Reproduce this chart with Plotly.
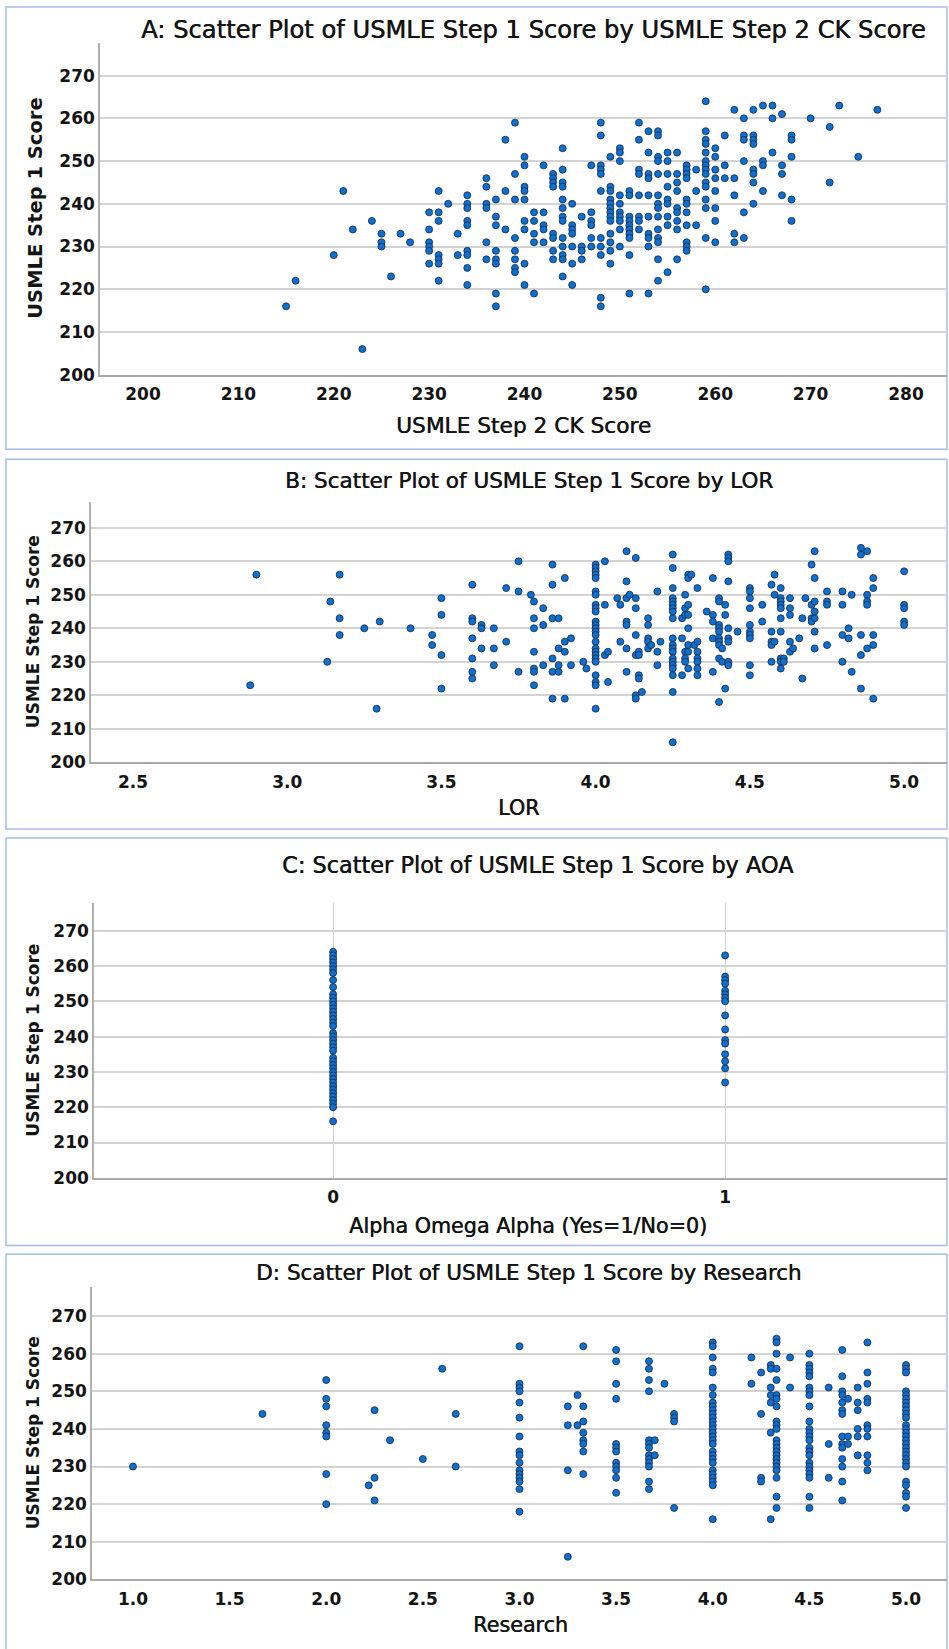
import plotly.graph_objects as go

W, H = 949, 1649

# ---------------- data ----------------
# Panel A: USMLE Step 2 CK (x) -> Step 1 scores (y) at that x
A_step2 = [215, 216, 220, 221, 222, 223, 224, 225, 226, 227, 228, 230, 231, 232, 233, 234,
           236, 237, 238, 239, 240, 241, 242, 243, 244, 245, 246, 247, 248, 249, 250, 251,
           252, 253, 254, 255, 256, 257, 258, 259, 260, 261, 262, 263, 264, 265, 266, 267,
           268, 270, 272, 273, 275, 277]
A_step1 = [
    [216], [222], [228], [243], [234], [206], [236], [233, 231, 230], [223], [233], [231],
    [238, 234, 231, 230, 229, 226],
    [243, 238, 236, 228, 227, 226, 222],
    [240], [233, 228],
    [242, 240, 239, 236, 235, 229, 228, 225, 221],
    [246, 244, 240, 239, 231, 227],
    [241, 237, 235, 229, 227, 226, 219, 216],
    [255, 243, 234],
    [259, 247, 241, 232, 229, 227, 225, 224],
    [251, 249, 244, 243, 241, 236, 234, 226, 221],
    [238, 236, 233, 231, 219],
    [249, 238, 235, 234, 231],
    [247, 246, 245, 244, 233, 232, 229, 227],
    [253, 248, 245, 244, 241, 239, 237, 236, 232, 230, 228, 227, 223],
    [240, 235, 234, 233, 230, 226, 221],
    [237, 230, 229, 227],
    [249, 238, 236, 235, 232, 230],
    [259, 256, 249, 248, 247, 243, 232, 230, 228, 218, 216],
    [251, 244, 243, 241, 240, 239, 238, 237, 236, 233, 231, 229, 226],
    [253, 252, 250, 242, 240, 238, 237, 236, 234, 230],
    [243, 242, 237, 236, 235, 234, 233, 232, 228, 219],
    [259, 255, 248, 247, 242, 237, 236, 234],
    [257, 252, 247, 246, 242, 237, 233, 232, 230, 219],
    [257, 256, 251, 250, 247, 242, 240, 239, 237, 234, 232, 231, 227, 222],
    [252, 250, 247, 244, 241, 240, 237, 235, 224],
    [252, 247, 245, 243, 239, 238, 236, 234, 227],
    [249, 248, 247, 246, 241, 240, 238, 235, 231, 230, 229],
    [248, 243, 235],
    [264, 257, 255, 254, 252, 250, 249, 248, 247, 245, 244, 241, 239, 232, 220],
    [253, 251, 248, 246, 243, 239, 236, 231],
    [256, 249, 246],
    [262, 246, 242, 233, 231],
    [260, 256, 255, 250, 238, 232],
    [262, 256, 255, 254, 248, 247, 245, 240],
    [263, 250, 249, 243],
    [263, 260, 252],
    [261, 249, 247, 242],
    [256, 255, 251, 241, 236],
    [260], [258, 245], [263], [251], [262],
]

# Panel B: LOR (x) -> Step 1 scores
B_lor = [2.88, 2.90, 3.13, 3.14, 3.17, 3.25, 3.29, 3.30, 3.40, 3.47, 3.50, 3.60, 3.63, 3.67,
         3.71, 3.75, 3.79, 3.80, 3.83, 3.86, 3.88, 3.90, 3.92, 3.96, 3.97, 4.00, 4.03, 4.04,
         4.07, 4.08, 4.10, 4.11, 4.13, 4.14, 4.15, 4.17, 4.18, 4.20, 4.21, 4.25, 4.28, 4.29,
         4.30, 4.31, 4.32, 4.33, 4.36, 4.38, 4.40, 4.41, 4.42, 4.43, 4.46, 4.50, 4.54, 4.57,
         4.58, 4.60, 4.61, 4.63, 4.64, 4.66, 4.67, 4.68, 4.70, 4.71, 4.75, 4.80, 4.82, 4.83,
         4.86, 4.88, 4.90, 5.00]
B_step1 = [
    [223], [256], [230], [248], [256, 243, 238], [240], [216], [242], [240], [238, 235],
    [249, 244, 232, 222],
    [253, 243, 242, 237, 231, 227, 225],
    [241, 240, 234],
    [240, 234, 229],
    [252, 236],
    [260, 251, 227],
    [250],
    [248, 243, 240, 233, 228, 227, 223],
    [246, 241, 229],
    [259, 253, 243, 231, 227, 219],
    [243, 234, 229, 227],
    [255, 236, 233, 219],
    [237, 229], [230], [228],
    [259, 258, 257, 256, 255, 251, 250, 247, 246, 245, 242, 241, 240, 239, 238, 236, 234,
     233, 232, 231, 230, 226, 224, 223, 216],
    [260, 247, 232], [233, 224], [249], [247, 236],
    [263, 254, 249, 242, 241, 234, 227],
    [250],
    [261, 249, 246, 238, 232, 220, 219],
    [233, 232, 226, 225],
    [221],
    [243, 241, 237, 236, 234],
    [235],
    [251, 233, 229],
    [236],
    [262, 258, 252, 249, 248, 247, 246, 245, 243, 237, 235, 234, 233, 231, 230, 229, 228,
     226, 221, 206],
    [243, 237, 226],
    [250, 246, 244, 233, 231, 230],
    [256, 255, 247, 244, 240, 235, 233, 228],
    [256], [235],
    [252, 236, 233, 231, 230, 228, 226],
    [245],
    [255, 244, 242, 237, 227],
    [249, 248, 241, 240, 239, 237, 236, 235, 231, 218],
    [234, 230],
    [247, 244, 222],
    [262, 261, 260, 254, 240, 237, 236, 230, 229],
    [239],
    [252, 251, 249, 246, 241, 239, 238, 237, 229, 226],
    [247, 242],
    [253, 239, 236, 235, 230],
    [256, 250, 236],
    [252, 249, 248, 247, 246, 243, 239, 231, 230, 228],
    [231, 230],
    [249, 246, 244, 236, 233],
    [234], [237], [243, 225], [249],
    [259, 247, 243, 242],
    [263, 255, 248, 245, 243, 239, 234],
    [251, 248, 247, 235],
    [251, 247, 238, 230],
    [240, 237],
    [250, 227],
    [264, 262, 238, 232, 222],
    [263, 250, 248, 247, 234],
    [255, 252, 238, 235, 219],
    [257, 247, 246, 242, 241],
]

# Panel C: AOA (0 / 1) -> Step 1 scores
C_aoa = [0, 1]
C_step1 = [
    [264, 263, 262, 261, 260, 259, 258, 256, 254, 252, 251, 250, 249, 248, 247, 246, 245,
     244, 243, 241, 240, 239, 238, 237, 236, 234, 233, 232, 231, 230, 229, 228, 227, 226,
     225, 224, 223, 222, 221, 220, 216],
    [263, 257, 256, 255, 253, 252, 251, 250, 246, 242, 239, 238, 235, 233, 231, 227],
]

# Panel D: Research (x) -> Step 1 scores
D_research = [1.00, 1.67, 2.00, 2.22, 2.25, 2.33, 2.50, 2.60, 2.67, 3.00, 3.25, 3.30, 3.33,
              3.50, 3.67, 3.70, 3.75, 3.80, 4.00, 4.20, 4.25, 4.30, 4.33, 4.40, 4.50, 4.60,
              4.67, 4.70, 4.75, 4.80, 5.00]
D_step1 = [
    [230], [244],
    [253, 248, 246, 241, 239, 238, 228, 220],
    [225], [245, 227, 221], [237], [232], [256], [244, 230],
    [262, 252, 251, 250, 247, 243, 238, 234, 233, 231, 229, 228, 227, 226, 224, 218],
    [246, 241, 229, 206],
    [249, 241],
    [262, 246, 242, 239, 237, 236, 234, 228],
    [261, 258, 252, 248, 236, 235, 234, 231, 230, 229, 227, 223],
    [258, 256, 253, 250, 237, 236, 235, 233, 232, 231, 230, 226, 224],
    [237, 233], [252], [244, 243, 242, 219],
    [263, 262, 259, 256, 255, 251, 249, 247, 246, 245, 244, 243, 242, 241, 240, 239, 238,
     237, 236, 234, 233, 232, 231, 229, 228, 227, 226, 225, 216],
    [259, 252],
    [255, 244, 227, 226],
    [257, 256, 251, 249, 247, 239, 216],
    [264, 263, 260, 256, 253, 249, 248, 246, 242, 241, 240, 237, 236, 235, 234, 233, 232,
     231, 230, 229, 227, 222, 219],
    [259, 251],
    [260, 257, 256, 255, 254, 251, 250, 249, 246, 242, 240, 239, 238, 237, 235, 234, 233,
     231, 230, 229, 228, 227, 222, 219],
    [251, 236, 227],
    [261, 254, 250, 249, 247, 245, 244, 238, 236, 235, 232, 230, 226, 221],
    [248, 238, 236],
    [251, 247, 245, 240, 238, 233],
    [263, 255, 252, 248, 247, 241, 240, 238, 233, 231, 229],
    [257, 256, 255, 250, 249, 248, 247, 246, 245, 244, 243, 241, 240, 239, 238, 237, 236,
     235, 234, 233, 232, 231, 230, 226, 225, 223, 222, 219],
]

y_ticks = [200, 210, 220, 230, 240, 250, 260, 270]
A_xticks = [200, 210, 220, 230, 240, 250, 260, 270, 280]
B_xticks = [2.5, 3.0, 3.5, 4.0, 4.5, 5.0]
C_xticks = [0, 1]
D_xticks = [1.0, 1.5, 2.0, 2.5, 3.0, 3.5, 4.0, 4.5, 5.0]

titles = ["A: Scatter Plot of USMLE Step 1 Score by USMLE Step 2 CK Score",
          "B: Scatter Plot of USMLE Step 1 Score by LOR",
          "C: Scatter Plot of USMLE Step 1 Score by AOA",
          "D: Scatter Plot of USMLE Step 1 Score by Research"]
x_titles = ["USMLE Step 2 CK Score", "LOR", "Alpha Omega Alpha (Yes=1/No=0)", "Research"]
y_title = "USMLE Step 1 Score"


def flatten(xs, groups):
    fx, fy = [], []
    for x, g in zip(xs, groups):
        for v in g:
            fx.append(x)
            fy.append(v)
    return fx, fy


# ---------------- layout helpers (page pixels -> paper) ----------------
def px(xp):
    return xp / W


def py(yp):
    return 1 - yp / H


panels = [
    dict(box=(6, 7, 947, 452), plot=(100, 43, 947, 377), xr=[195.49, 284.3],
         title=(533, 30, 24.2), xt=(523, 428, 21.7), yt=(36, 19.5)),
    dict(box=(6, 462, 947, 834), plot=(91, 505, 947, 767), xr=[2.364, 5.139],
         title=(529, 483, 21.5), xt=(518, 813, 20.7), yt=(33, 17)),
    dict(box=(6, 843, 947, 1253), plot=(94, 909, 947, 1185), xr=[-0.61, 1.566],
         title=(538, 870, 22.4), xt=(528, 1233, 20.7), yt=(33, 17)),
    dict(box=(6, 1262, 947, 1670), plot=(92, 1295, 947, 1589), xr=[0.788, 5.212],
         title=(528, 1280, 21.5), xt=(520, 1635, 20.7), yt=(33, 17)),
]
datasets = [
    (flatten(A_step2, A_step1), A_xticks, None),
    (flatten(B_lor, B_step1), B_xticks, ".1f"),
    (flatten(C_aoa, C_step1), C_xticks, None),
    (flatten(D_research, D_step1), D_xticks, ".1f"),
]

fig = go.Figure()
TEXT = "#141414"
tick_font = dict(family="DejaVu Sans", size=17, color=TEXT, weight="bold")
SEMI = "0.5px 0px 0px #141414"   # thickens the regular face slightly

shapes = []
annotations = []
layout = {}
for i, (p, (xy, xticks, fmt)) in enumerate(zip(panels, datasets)):
    n = "" if i == 0 else str(i + 1)
    xa, ya = "x" + n, "y" + n
    fig.add_trace(go.Scatter(
        x=xy[0], y=xy[1], mode="markers", xaxis=xa, yaxis=ya, showlegend=False,
        marker=dict(size=7, color="#0b6fd3", line=dict(color="#1b2838", width=0.8)),
        hoverinfo="x+y"))
    l, t, r, b = p["plot"]
    layout["xaxis" + n] = dict(
        domain=[px(l), px(r)], range=p["xr"], anchor=ya,
        tickvals=xticks, tickformat=fmt, ticks="", showline=True,
        linecolor="#a9a9a9", linewidth=2, zeroline=False,
        showgrid=(i == 2), gridcolor="#d2d2d2", gridwidth=1,
        tickfont=tick_font, ticklabelstandoff=3, fixedrange=True)
    layout["yaxis" + n] = dict(
        domain=[py(b), py(t)], range=[200, 277.7], anchor=xa,
        tickvals=y_ticks, ticks="", showline=True, linecolor="#b0b0b0", linewidth=1.5,
        zeroline=False, showgrid=True, gridcolor="#d3d3d3", gridwidth=1.5,
        tickfont=tick_font, ticklabelstandoff=0, fixedrange=True)
    bl, bt, br, bb = p["box"]
    shapes.append(dict(type="rect", xref="paper", yref="paper",
                       x0=px(bl), x1=px(br), y0=py(bb), y1=py(bt),
                       line=dict(color="#a4bde6", width=1.5), fillcolor="rgba(0,0,0,0)",
                       layer="below"))
    tx, ty, ts = p["title"]
    annotations.append(dict(text=titles[i], x=px(tx), y=py(ty), xref="paper", yref="paper",
                            xanchor="center", yanchor="middle", showarrow=False,
                            font=dict(family="DejaVu Sans", size=ts, color=TEXT,
                                      shadow=SEMI)))
    xx, xy_, xs = p["xt"]
    annotations.append(dict(text=x_titles[i], x=px(xx), y=py(xy_), xref="paper",
                            yref="paper", xanchor="center", yanchor="middle",
                            showarrow=False,
                            font=dict(family="DejaVu Sans", size=xs, color=TEXT,
                                      shadow=SEMI)))
    yx, ys = p["yt"]
    annotations.append(dict(text=y_title, x=px(yx), y=py((t + b) / 2), xref="paper",
                            yref="paper", xanchor="center", yanchor="middle",
                            textangle=-90, showarrow=False,
                            font=dict(family="DejaVu Sans", size=ys, color=TEXT,
                                      weight="bold")))

fig.update_layout(
    width=W, height=H, margin=dict(l=0, r=0, t=0, b=0),
    paper_bgcolor="white", plot_bgcolor="white",
    shapes=shapes, annotations=annotations, showlegend=False,
    **layout)

# pin the page to exactly the figure size (no default body margin, no extra height)
page_fix = (
    "var d=document.documentElement,b=document.body;"
    "d.style.margin='0';d.style.padding='0';b.style.margin='0';b.style.padding='0';"
    "d.style.height='1649px';b.style.height='1649px';"
    "d.style.overflow='hidden';b.style.overflow='hidden';"
)
fig.write_html("out.html", config={"displayModeBar": False}, post_script=page_fix)
